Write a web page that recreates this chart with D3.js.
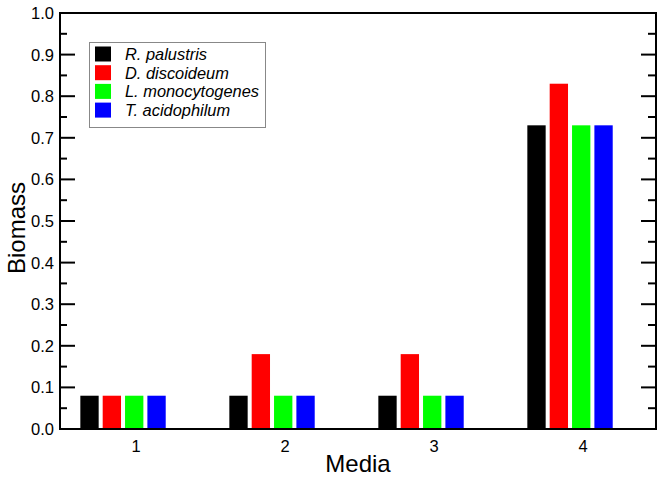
<!DOCTYPE html>
<html>
<head>
<meta charset="utf-8">
<script src="https://cdn.jsdelivr.net/npm/d3@7"></script>
<style>
  body { margin: 0; background: #fff; }
  svg { display: block; font-family: "Liberation Sans", Arial, Helvetica, sans-serif; }
</style>
</head>
<body>
<script>
//chart data
var media = [1, 2, 3, 4];
var species = ["R. palustris", "D. discoideum", "L. monocytogenes", "T. acidophilum"];
var colors = ["#000000", "#ff0000", "#00ff00", "#0000ff"];
var rPalustris = [0.08, 0.08, 0.08, 0.73];
var dDiscoideum = [0.08, 0.18, 0.18, 0.83];
var lMonocytogenes = [0.08, 0.08, 0.08, 0.73];
var tAcidophilum = [0.08, 0.08, 0.08, 0.73];
var yTicks = [0, 0.1, 0.2, 0.3, 0.4, 0.5, 0.6, 0.7, 0.8, 0.9, 1.0];

var series = [rPalustris, dDiscoideum, lMonocytogenes, tAcidophilum];

var width = 664,
  height = 479;

//plot frame
var plotL = 60, plotR = 656, plotT = 13, plotB = 429;

var svg = d3.select("body")
  .append("svg")
  .attr("width", width)
  .attr("height", height);

var x = d3.scaleLinear()
  .domain([0.49, 4.49])
  .range([plotL, plotR]);

var y = d3.scaleLinear()
  .domain([0, 1])
  .range([plotB, plotT]);

//bar layout in x units
var groupShift = -0.087, pitch = 0.15, barW = 0.123;

//bars
series.forEach(function(vals, s) {
  svg.selectAll(".bar" + s)
    .data(vals)
    .enter()
    .append("rect")
    .attr("class", "bar" + s)
    .attr("x", function(d, i) {
      return x(media[i] + groupShift + (s - 1.5) * pitch - barW / 2);
    })
    .attr("width", x(barW) - x(0))
    .attr("y", function(d) { return y(d); })
    .attr("height", function(d) { return y(0) - y(d); })
    .attr("fill", colors[s]);
});

//y ticks on both sides, pointing inward (major 0.1, minor 0.05)
var tickSteps = d3.range(0, 21);

svg.append("g")
  .attr("transform", "translate(" + plotL + ",0)")
  .selectAll("line")
  .data(tickSteps)
  .enter()
  .append("line")
  .attr("x1", 0)
  .attr("x2", function(d) { return d % 2 === 0 ? 15 : 7; })
  .attr("y1", function(d) { return y(d * 0.05); })
  .attr("y2", function(d) { return y(d * 0.05); })
  .attr("stroke", "#000")
  .attr("stroke-width", 2);

svg.append("g")
  .attr("transform", "translate(" + plotR + ",0)")
  .selectAll("line")
  .data(tickSteps)
  .enter()
  .append("line")
  .attr("x1", 0)
  .attr("x2", function(d) { return d % 2 === 0 ? -15 : -8; })
  .attr("y1", function(d) { return y(d * 0.05); })
  .attr("y2", function(d) { return y(d * 0.05); })
  .attr("stroke", "#000")
  .attr("stroke-width", 2);

//y tick labels
svg.selectAll(".ylab")
  .data(yTicks)
  .enter()
  .append("text")
  .attr("class", "ylab")
  .attr("x", 54)
  .attr("y", function(d) { return y(d) + 6; })
  .attr("text-anchor", "end")
  .attr("font-size", 16.5)
  .text(function(d) { return d3.format(".1f")(d); });

//x tick labels
svg.selectAll(".xlab")
  .data(media)
  .enter()
  .append("text")
  .attr("class", "xlab")
  .attr("x", function(d) { return x(d); })
  .attr("y", 452)
  .attr("text-anchor", "middle")
  .attr("font-size", 16.5)
  .text(function(d) { return d; });

//frame
svg.append("rect")
  .attr("x", plotL)
  .attr("y", plotT)
  .attr("width", plotR - plotL)
  .attr("height", plotB - plotT)
  .attr("fill", "none")
  .attr("stroke", "#000")
  .attr("stroke-width", 2);

//axis titles
svg.append("text")
  .attr("x", (plotL + plotR) / 2)
  .attr("y", 472)
  .attr("text-anchor", "middle")
  .attr("font-size", 24)
  .text("Media");

svg.append("text")
  .attr("transform", "translate(25,228) rotate(-90)")
  .attr("text-anchor", "middle")
  .attr("font-size", 24)
  .text("Biomass");

//legend
var legend = svg.append("g");
legend.append("rect")
  .attr("x", 89.5)
  .attr("y", 42.5)
  .attr("width", 176)
  .attr("height", 85)
  .attr("fill", "#fff")
  .attr("stroke", "#888")
  .attr("stroke-width", 1);

var items = legend.selectAll(".item")
  .data(species)
  .enter()
  .append("g")
  .attr("class", "item")
  .attr("transform", function(d, i) { return "translate(0," + (54 + i * 18.7) + ")"; });

items.append("rect")
  .attr("x", 95)
  .attr("y", -7.5)
  .attr("width", 16)
  .attr("height", 15)
  .attr("fill", function(d, i) { return colors[i]; });

items.append("text")
  .attr("x", 125)
  .attr("y", 6)
  .attr("font-size", 16.4)
  .attr("font-style", "italic")
  .text(function(d) { return d; });
</script>
</body>
</html>
